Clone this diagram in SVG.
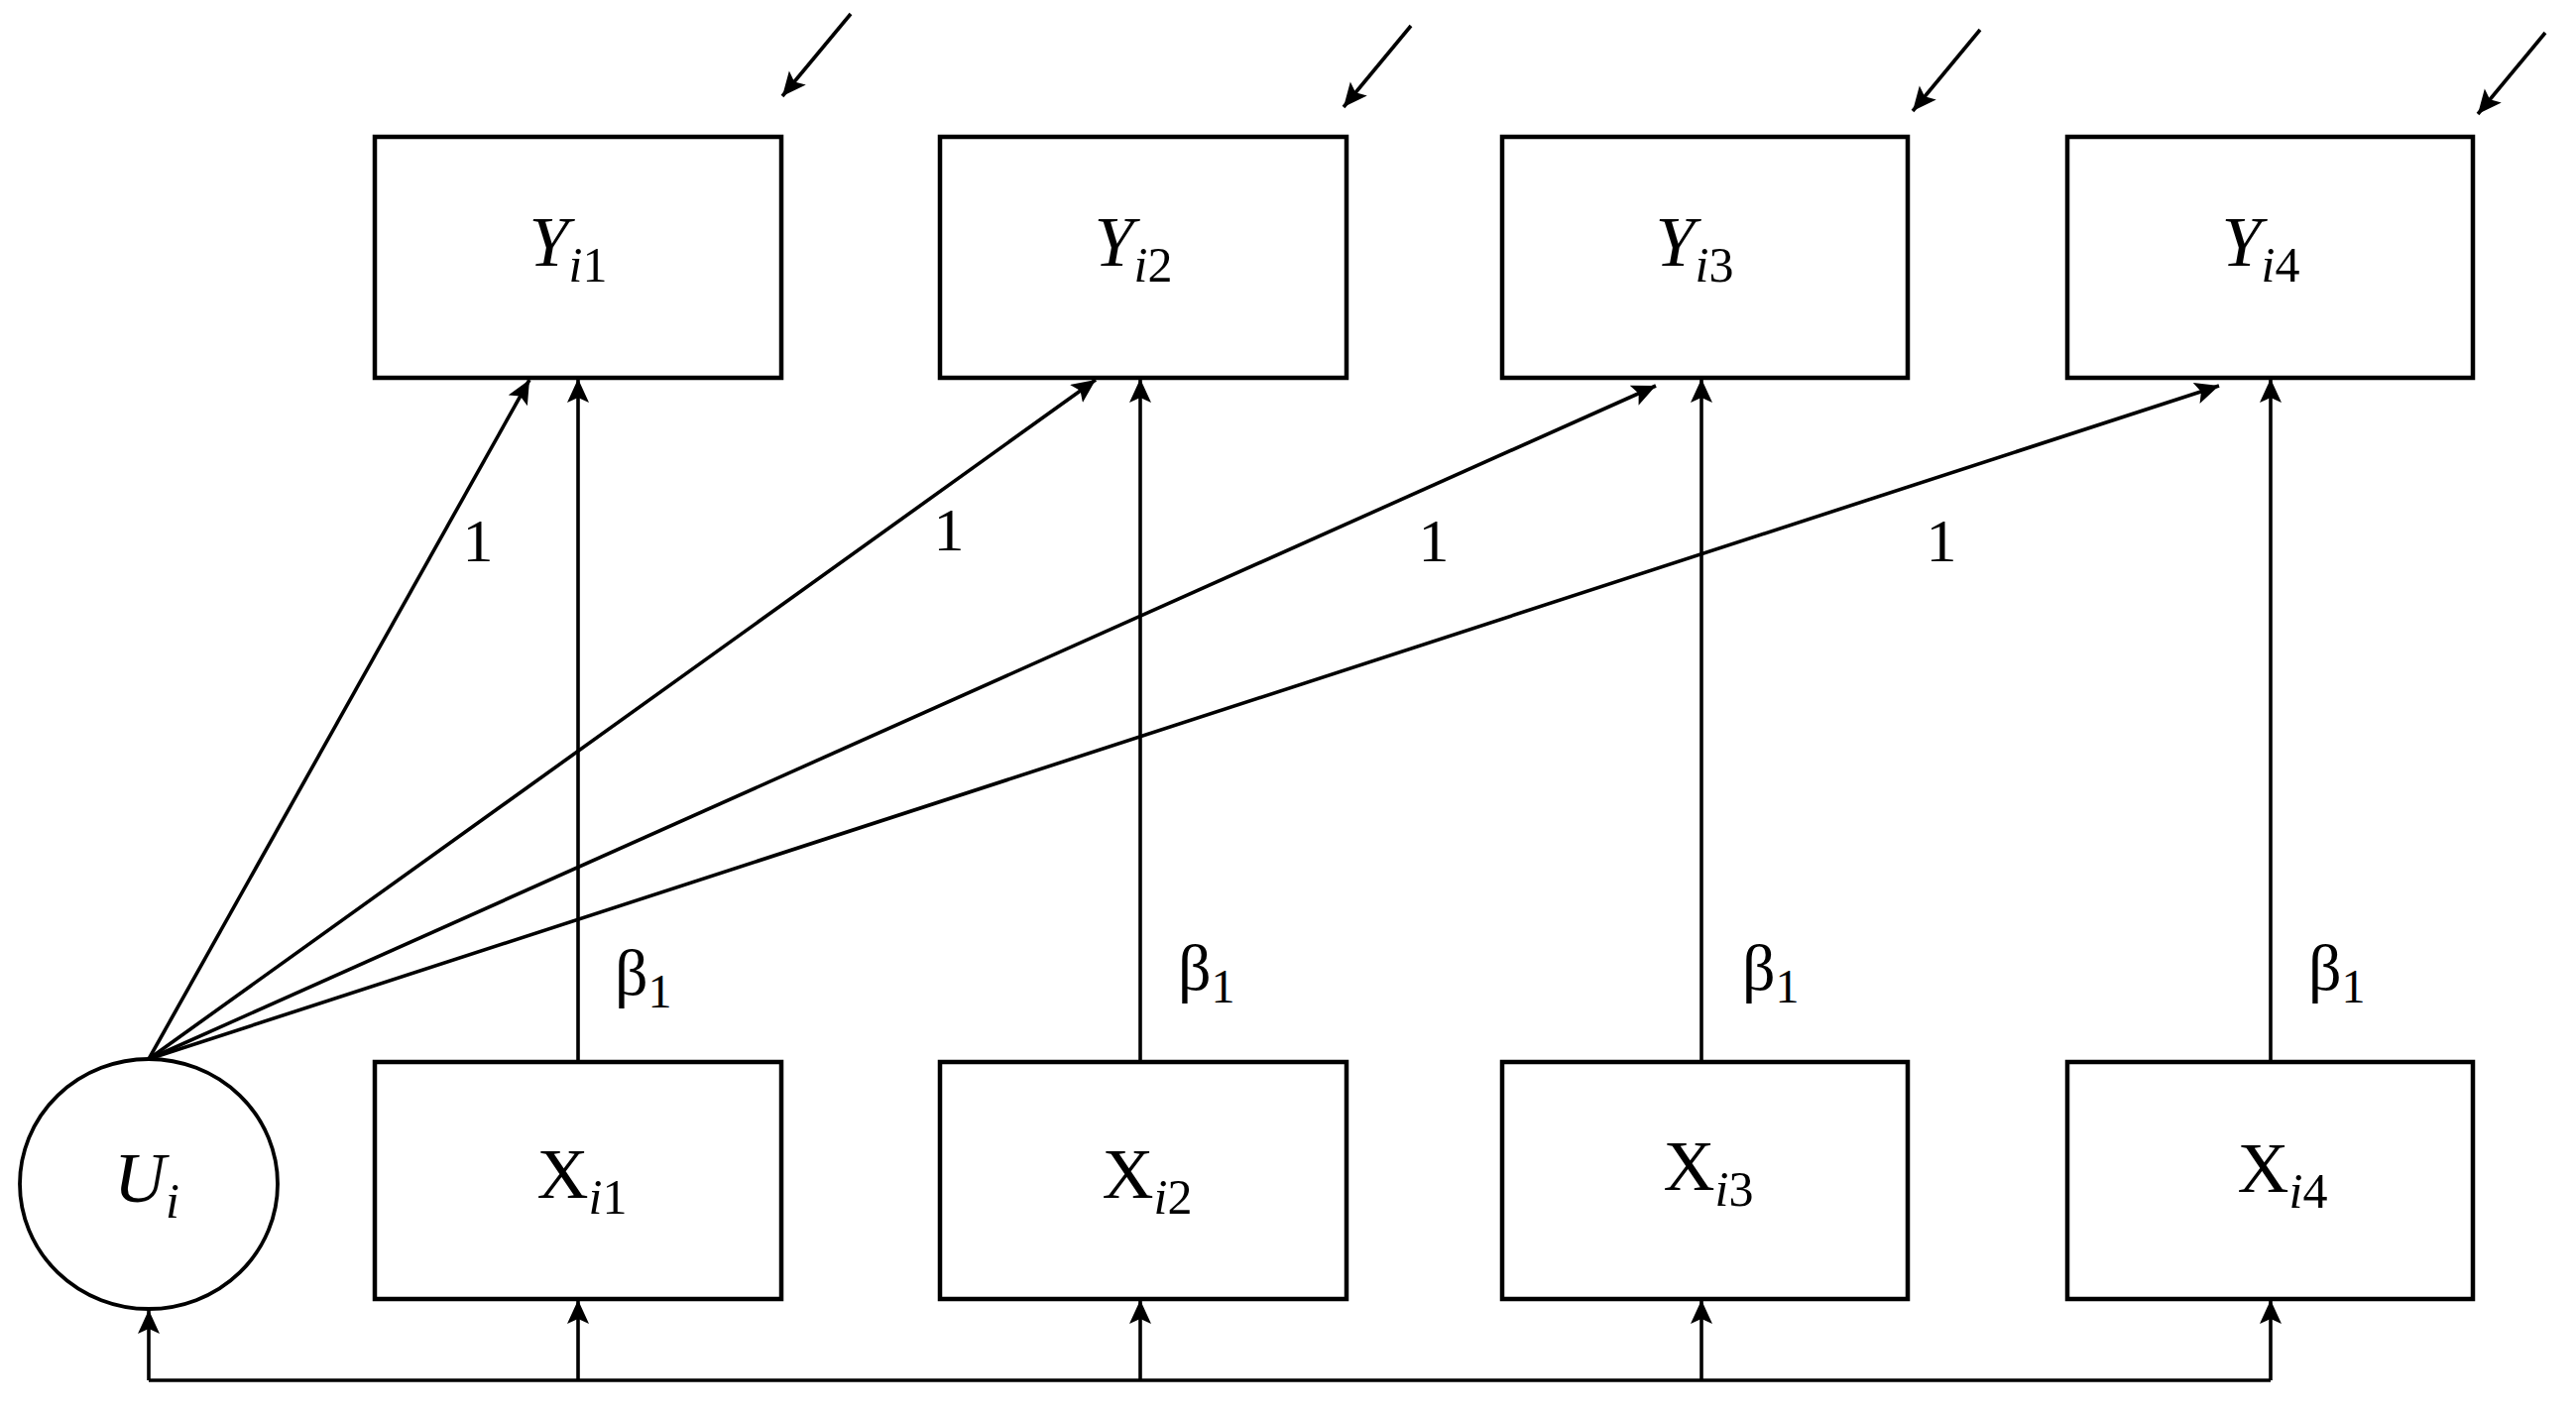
<svg xmlns="http://www.w3.org/2000/svg" width="2598" height="1429" viewBox="0 0 2598 1429">
<style>
.box{fill:#fff;stroke:#000;stroke-width:4.5}
.ell{fill:#fff;stroke:#000;stroke-width:3.8}
.ln{fill:none;stroke:#000;stroke-width:3.6}
.arr{marker-end:url(#ah)}
text{font-family:"Liberation Serif","DejaVu Serif",serif;fill:#000}
.lab{font-size:72px;text-anchor:middle}
.sub{font-size:50px}
.one{font-size:62px;text-anchor:middle}
.beta{font-size:66px}
.bsub{font-size:48px}
</style>
<defs>
<marker id="ah" markerUnits="userSpaceOnUse" markerWidth="28" markerHeight="24" refX="24" refY="11" orient="auto">
<path d="M0,0 L24,11 L0,22 L5,11 z" fill="#000"/>
</marker>
</defs>
<rect width="2598" height="1429" fill="#fff"/>
<g id="connectors">
<line class="ln arr" x1="858" y1="14" x2="789" y2="97"/>
<line class="ln arr" x1="1423" y1="26" x2="1355" y2="108"/>
<line class="ln arr" x1="1997" y1="30" x2="1929" y2="112"/>
<line class="ln arr" x1="2567" y1="33" x2="2499" y2="115"/>
<line class="ln arr" x1="150" y1="1068" x2="534" y2="383"/>
<line class="ln arr" x1="150" y1="1068" x2="1105" y2="383"/>
<line class="ln arr" x1="150" y1="1068" x2="1670" y2="389"/>
<line class="ln arr" x1="150" y1="1068" x2="2238" y2="389"/>
<line class="ln arr" x1="583" y1="1071" x2="583" y2="382"/>
<line class="ln arr" x1="1150" y1="1071" x2="1150" y2="382"/>
<line class="ln arr" x1="1716" y1="1071" x2="1716" y2="382"/>
<line class="ln arr" x1="2290" y1="1071" x2="2290" y2="382"/>
<polyline class="ln" points="150,1392 2290,1392"/>
<line class="ln arr" x1="150" y1="1392" x2="150" y2="1321"/>
<line class="ln arr" x1="583" y1="1392" x2="583" y2="1311"/>
<line class="ln arr" x1="1150" y1="1392" x2="1150" y2="1311"/>
<line class="ln arr" x1="1716" y1="1392" x2="1716" y2="1311"/>
<line class="ln arr" x1="2290" y1="1392" x2="2290" y2="1311"/>
<text class="one" x="482" y="566">1</text>
<text class="one" x="957" y="555">1</text>
<text class="one" x="1446" y="566">1</text>
<text class="one" x="1958" y="566">1</text>
<text x="620" y="1003"><tspan class="beta">β</tspan><tspan class="bsub" dy="13">1</tspan></text>
<text x="1188" y="998"><tspan class="beta">β</tspan><tspan class="bsub" dy="13">1</tspan></text>
<text x="1757" y="998"><tspan class="beta">β</tspan><tspan class="bsub" dy="13">1</tspan></text>
<text x="2328" y="998"><tspan class="beta">β</tspan><tspan class="bsub" dy="13">1</tspan></text>
</g>
<g id="Y1"><rect class="box" x="378" y="138" width="410" height="243"/><text class="lab" x="573" y="268"><tspan font-style="italic">Y</tspan><tspan class="sub" dy="16" font-style="italic">i</tspan><tspan class="sub">1</tspan></text></g>
<g id="Y2"><rect class="box" x="948" y="138" width="410" height="243"/><text class="lab" x="1143" y="268"><tspan font-style="italic">Y</tspan><tspan class="sub" dy="16" font-style="italic">i</tspan><tspan class="sub">2</tspan></text></g>
<g id="Y3"><rect class="box" x="1515" y="138" width="409" height="243"/><text class="lab" x="1709" y="268"><tspan font-style="italic">Y</tspan><tspan class="sub" dy="16" font-style="italic">i</tspan><tspan class="sub">3</tspan></text></g>
<g id="Y4"><rect class="box" x="2085" y="138" width="409" height="243"/><text class="lab" x="2280" y="268"><tspan font-style="italic">Y</tspan><tspan class="sub" dy="16" font-style="italic">i</tspan><tspan class="sub">4</tspan></text></g>
<g id="X1"><rect class="box" x="378" y="1071" width="410" height="239"/><text class="lab" x="587" y="1208"><tspan>X</tspan><tspan class="sub" dy="16" font-style="italic">i</tspan><tspan class="sub">1</tspan></text></g>
<g id="X2"><rect class="box" x="948" y="1071" width="410" height="239"/><text class="lab" x="1157" y="1208"><tspan>X</tspan><tspan class="sub" dy="16" font-style="italic">i</tspan><tspan class="sub">2</tspan></text></g>
<g id="X3"><rect class="box" x="1515" y="1071" width="409" height="239"/><text class="lab" x="1723" y="1200"><tspan>X</tspan><tspan class="sub" dy="16" font-style="italic">i</tspan><tspan class="sub">3</tspan></text></g>
<g id="X4"><rect class="box" x="2085" y="1071" width="409" height="239"/><text class="lab" x="2302" y="1202"><tspan>X</tspan><tspan class="sub" dy="16" font-style="italic">i</tspan><tspan class="sub">4</tspan></text></g>
<g id="U"><ellipse class="ell" cx="150" cy="1194" rx="130" ry="126"/><text class="lab" x="148" y="1212"><tspan font-style="italic">U</tspan><tspan class="sub" dy="16" font-style="italic">i</tspan></text></g>
</svg>
